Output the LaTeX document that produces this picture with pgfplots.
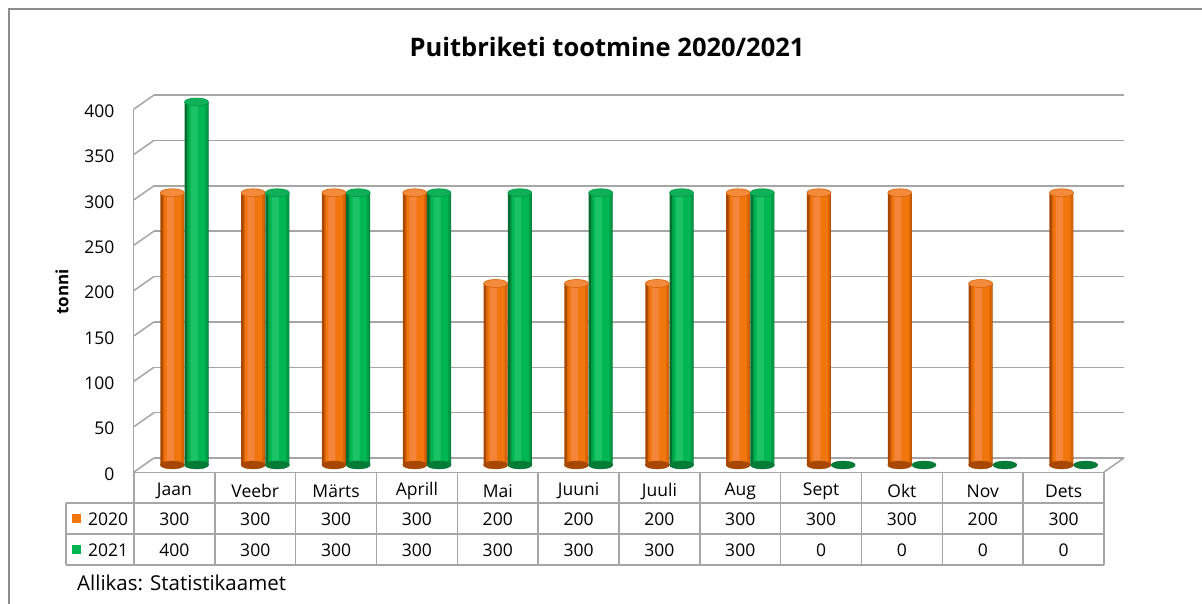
\documentclass[border=0pt]{standalone}
\usepackage{pgfplots}
\pgfplotsset{compat=1.18}
\usepackage{pgfplotstable}
\usepackage{fontspec}
\setmainfont{Open Sans}
\definecolor{org}{HTML}{F2760E}
\definecolor{orgmid}{HTML}{D96406}
\definecolor{orgdark}{HTML}{A84800}
\definecolor{orghi}{HTML}{F5853A}
\definecolor{orgtop}{HTML}{F38A3C}
\definecolor{grn}{HTML}{00B652}
\definecolor{grnmid}{HTML}{009A44}
\definecolor{grndark}{HTML}{006E30}
\definecolor{grnhi}{HTML}{1CC266}
\definecolor{grntop}{HTML}{10B058}
\definecolor{gridgray}{HTML}{A6A6A6}
\definecolor{framegray}{HTML}{8C8C8C}

\pgfplotstableread{
m a b
Jaan 300 400
Veebr 300 300
Märts 300 300
Aprill 300 300
Mai 200 300
Juuni 200 300
Juuli 200 300
Aug 300 300
Sept 300 0
Okt 300 0
Nov 200 0
Dets 300 0
}\data

\pgfdeclareplotmark{cyl}{\pgfpathellipse{\pgfpointorigin}{\pgfqpoint{12pt}{0pt}}{\pgfqpoint{0pt}{4pt}}\pgfusepathqfillstroke}

\pgfplotsset{base/.style={scale only axis, width=970pt, height=363pt,
  xmin=-0.5, xmax=11.5, ymin=0, ymax=400, anchor=south west,
  axis line style={draw=none}, tick style={draw=none},
  xtick=\empty, ytick=\empty, clip=false},
  cylbar/.style n args={3}{ybar, bar width=#1, bar shift=#2, draw=none, fill=#3,
    restrict y to domain=1:1000}}

\newcommand{\fs}{\fontsize{17.5}{20}\selectfont}

\begin{document}
\begin{tikzpicture}
\useasboundingbox (0,0) rectangle (1202pt,603pt);
\fill[white] (0,0) rectangle (1202pt,603pt);
% frame
\draw[framegray, line width=2pt] (9pt,-5pt) -- (9pt,594pt) -- (1210pt,594pt);

% back wall
\begin{axis}[base, at={(154pt,145pt)}, ytick={0,50,...,400}, yticklabels={},
  ymajorgrids, grid style={gridgray, line width=1.5pt}]
\addplot[draw=none] coordinates {(0,0)};
\end{axis}

% floor and left edges
\draw[gridgray, line width=1.5pt] (1104pt,131pt) -- (1124pt,145pt);
\draw[gridgray, line width=1.5pt] (133.5pt,131pt) -- (133.5pt,494pt);
\foreach \t in {0,50,...,400}
  \draw[gridgray, line width=1.5pt] (134pt,{(131+0.9075*\t)*1pt}) -- ++(20pt,14pt);

% bars
\begin{axis}[base, at={(144pt,138pt)}]
% 2020
\addplot[only marks, mark=cyl, mark options={fill=orgdark, draw=orgdark}]
  table[x expr=\coordindex-0.15, y expr=0]{\data};
\addplot[cylbar={24pt}{0pt}{orgdark}] table[x expr=\coordindex-0.15, y=a]{\data};
\addplot[cylbar={21pt}{1pt}{orgmid}] table[x expr=\coordindex-0.15, y=a]{\data};
\addplot[cylbar={17pt}{0.5pt}{org}] table[x expr=\coordindex-0.15, y=a]{\data};
\addplot[cylbar={7pt}{-2pt}{orghi}] table[x expr=\coordindex-0.15, y=a]{\data};
\addplot[only marks, mark=cyl, mark options={fill=orgtop, draw=orgmid, line width=0.6pt},
  restrict y to domain=1:1000]
  table[x expr=\coordindex-0.15, y=a]{\data};
% 2021
\addplot[only marks, mark=cyl, mark options={fill=grndark!80!grn, draw=grndark}]
  table[x expr=\coordindex+0.15, y expr=0]{\data};
\addplot[cylbar={24pt}{0pt}{grndark}] table[x expr=\coordindex+0.15, y=b]{\data};
\addplot[cylbar={21pt}{1pt}{grnmid}] table[x expr=\coordindex+0.15, y=b]{\data};
\addplot[cylbar={17pt}{0.5pt}{grn}] table[x expr=\coordindex+0.15, y=b]{\data};
\addplot[cylbar={7pt}{-2pt}{grnhi}] table[x expr=\coordindex+0.15, y=b]{\data};
\addplot[only marks, mark=cyl, mark options={fill=grntop, draw=grnmid, line width=0.6pt},
  restrict y to domain=1:1000]
  table[x expr=\coordindex+0.15, y=b]{\data};
\end{axis}

% front axis: tick labels
\begin{axis}[base, at={(134pt,131pt)}, ytick={0,50,...,400},
  /pgf/number format/assume math mode=true,
  yticklabel style={font=\fs, anchor=east, xshift=-16pt, yshift=-2pt}]
\addplot[draw=none] coordinates {(0,0)};
\end{axis}

% y label and title
\node[rotate=90, font=\fontsize{17}{20}\selectfont\bfseries] at (62pt,311pt) {tonni};
\node[font=\fontsize{25.5}{28}\selectfont\bfseries] at (607pt,556pt) {Puitbriketi tootmine 2020/2021};
\node[font=\fontsize{20.5}{22}\selectfont, anchor=base west, inner sep=0pt] at (77pt,13pt) {Allikas: Statistikaamet};

% data table
\begin{scope}[gridgray, line width=1.5pt]
\draw (134pt,130.5pt) -- (1104pt,130.5pt);
\foreach \yy in {100,69,38} \draw (66pt,\yy pt) -- (1104pt,\yy pt);
\draw (66pt,38pt) -- (66pt,100pt);
\foreach \k in {0,...,12} \draw ({(134+80.833*\k)*1pt},38pt) -- ({(134+80.833*\k)*1pt},131pt);
\end{scope}
\fill[org] (72pt,80pt) rectangle (81pt,89pt);
\fill[grn] (72pt,49pt) rectangle (81pt,58pt);
\node[font=\fs, anchor=west, inner sep=0pt] at (88pt,84pt) {2020};
\node[font=\fs, anchor=west, inner sep=0pt] at (88pt,53pt) {2021};
\foreach \i in {0,...,11} {
  \pgfplotstablegetelem{\i}{m}\of\data
  \node[font=\fs] at ({(134+80.833*(\i+0.5))*1pt},112pt) {\pgfplotsretval};
  \pgfplotstablegetelem{\i}{a}\of\data
  \node[font=\fs] at ({(134+80.833*(\i+0.5))*1pt},84pt) {\pgfplotsretval};
  \pgfplotstablegetelem{\i}{b}\of\data
  \node[font=\fs] at ({(134+80.833*(\i+0.5))*1pt},53pt) {\pgfplotsretval};
}
\end{tikzpicture}
\end{document}
